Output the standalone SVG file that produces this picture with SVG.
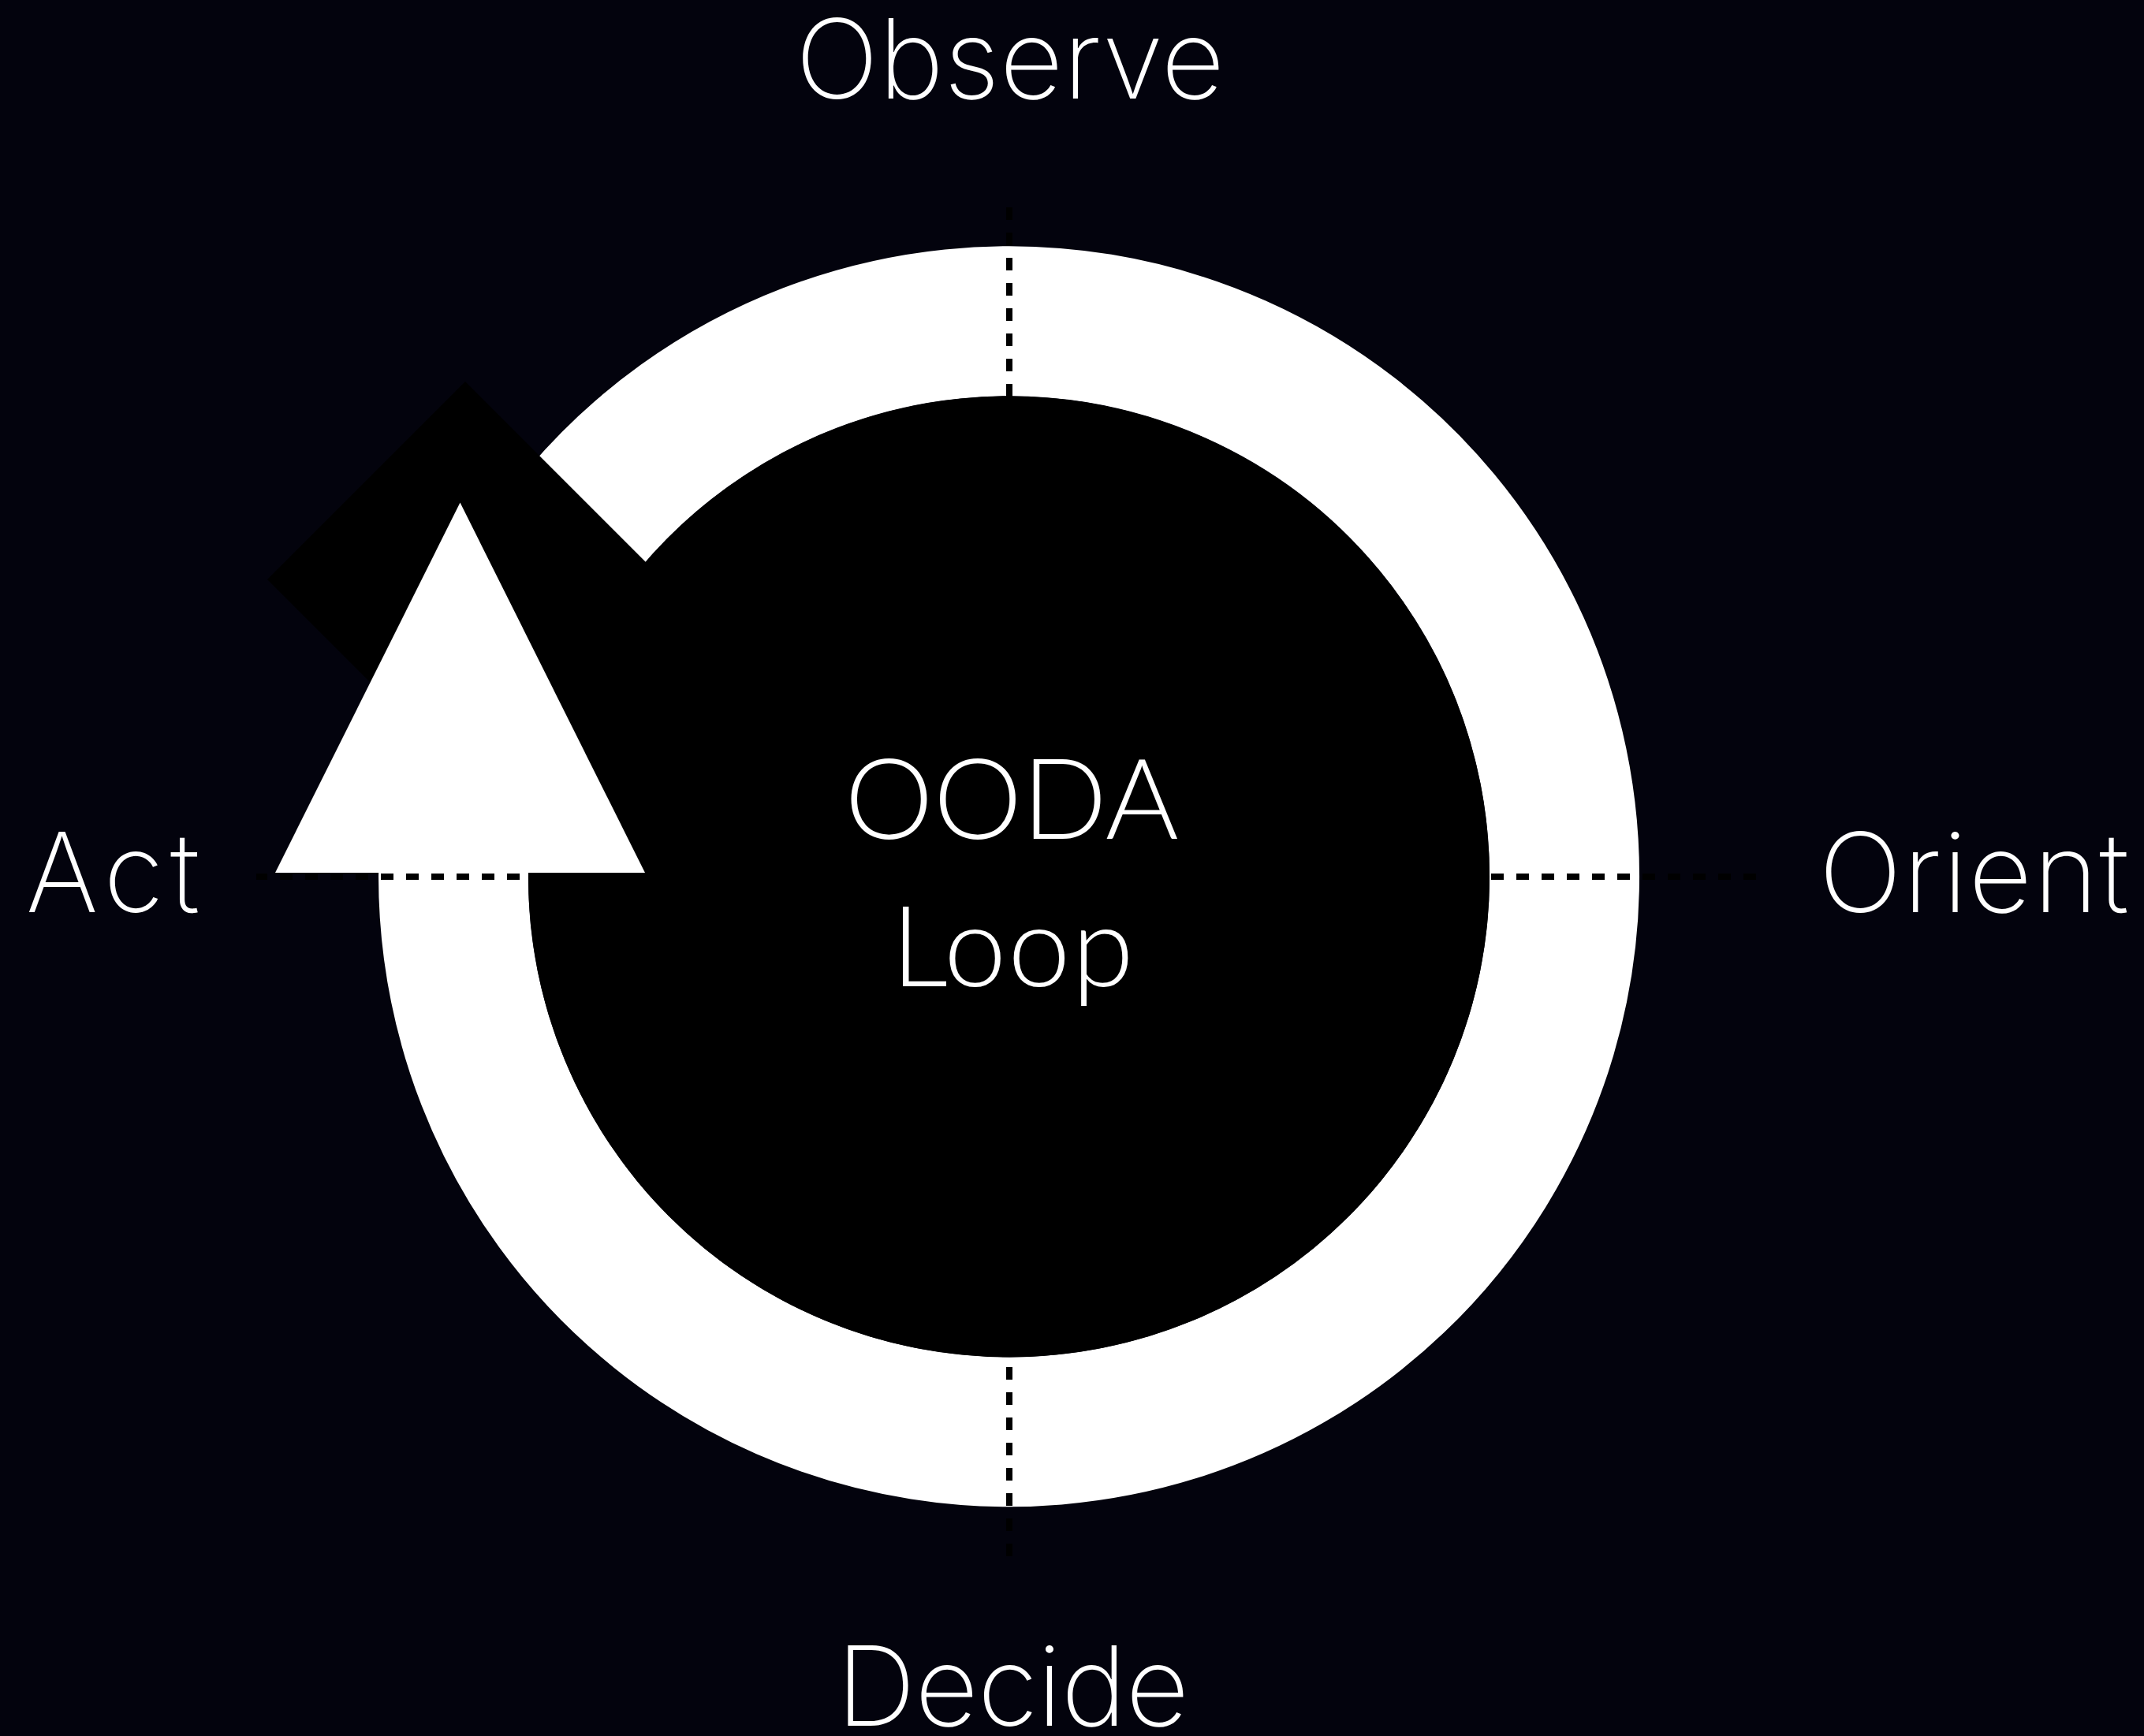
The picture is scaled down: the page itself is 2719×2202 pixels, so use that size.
<svg xmlns="http://www.w3.org/2000/svg" width="2719" height="2202" viewBox="0 0 2719 2202">
  <style>
    .label { font-family: Inter, "Liberation Sans", sans-serif; font-weight: 250; font-size: 140px; fill: #ffffff; text-anchor: middle; }
    .title { font-family: Lato, Inter, "Liberation Sans", sans-serif; font-weight: 300; font-size: 142px; fill: #ffffff; text-anchor: middle; }
    .dash { fill: none; stroke: #000000; stroke-width: 8; stroke-dasharray: 16 16; }
  </style>
  <rect id="background" x="0" y="0" width="2719" height="2202" fill="#03030d"/>

  <g id="loop">
    <path d="M577.7 1050.6 A704.5 704.5 0 1 0 657.5 781" fill="none" stroke="#ffffff" stroke-width="190"/>
    <circle cx="1279.5" cy="1112" r="609.5" fill="#000000"/>
    <polygon points="590,484 339,735 652,1048 903,797" fill="#000000"/>
    <polygon points="583.5,637.5 818,1107 349,1107" fill="#ffffff"/>
  </g>

  <g id="connectors">
    <path class="dash" d="M1280 503 V263"/>
    <path class="dash" d="M1280 1734 V1974"/>
    <path class="dash" d="M659 1112 H325"/>
    <path class="dash" d="M1891 1112 H2227"/>
  </g>

  <g id="center">
    <text class="title" x="1283" y="1064">OODA</text>
    <text class="title" x="1285" y="1251" letter-spacing="2">Loop</text>
  </g>
  <g id="observe"><text class="label" x="1281" y="125">Observe</text></g>
  <g id="orient"><text class="label" x="2504" y="1157" letter-spacing="1.5">Orient</text></g>
  <g id="decide"><text class="label" x="1284" y="2189" letter-spacing="-1">Decide</text></g>
  <g id="act"><text class="label" x="147" y="1157" letter-spacing="8">Act</text></g>
</svg>
